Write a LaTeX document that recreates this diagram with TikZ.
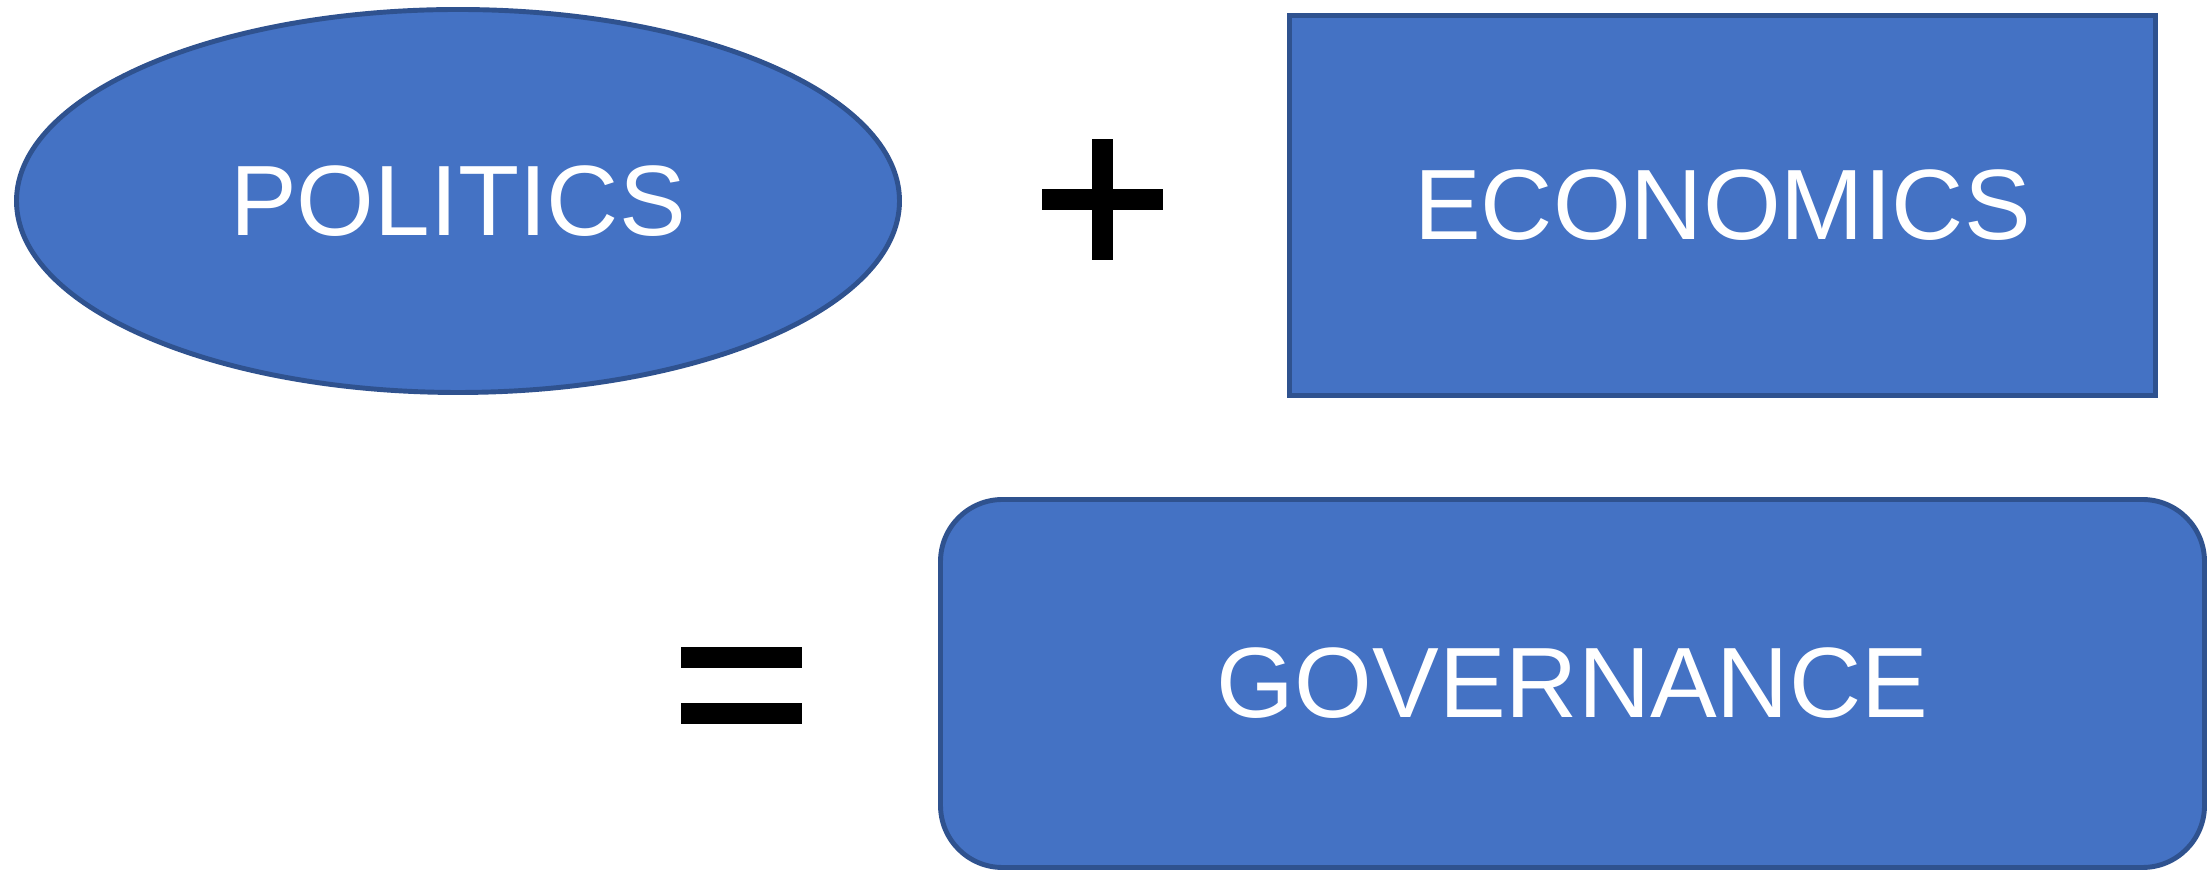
\documentclass[tikz,border=0pt]{standalone}
\usepackage{fontspec}
\setmainfont{Liberation Sans}
\usetikzlibrary{shapes.geometric}
\definecolor{shapefill}{HTML}{4472C4}
\definecolor{shapeline}{HTML}{2F528F}
\tikzset{
  term/.style={draw=shapeline, fill=shapefill, line width=1.4pt, text=white,
    font=\fontsize{28.45}{34}\selectfont, inner sep=0pt},
  bar/.style={fill=black, inner sep=0pt, minimum width=1.21cm, minimum height=0.21cm},
}
\begin{document}
\begin{tikzpicture}
    \path[use as bounding box] (0,0) rectangle (22.11,8.72);
    % Terms.
    \node[term, ellipse, minimum width=8.83cm, minimum height=3.83cm] (politics) at (4.58,6.71) {POLITICS};
    \node[term, rectangle, minimum width=8.66cm, minimum height=3.80cm] (economics) at (17.225,6.665) {ECONOMICS};
    \node[term, rectangle, rounded corners=0.62cm, minimum width=12.64cm, minimum height=3.68cm] (governance) at (15.725,1.885) {GOVERNANCE};
    % Signs.
    \node[bar] (plush) at (11.025,6.725) {};
    \node[bar, minimum width=0.21cm, minimum height=1.21cm] (plusv) at (plush) {};
    \node[bar] (eqtop) at (7.415,2.145) {};
    \node[bar] (eqbot) at (7.415,1.585) {};
\end{tikzpicture}
\end{document}
